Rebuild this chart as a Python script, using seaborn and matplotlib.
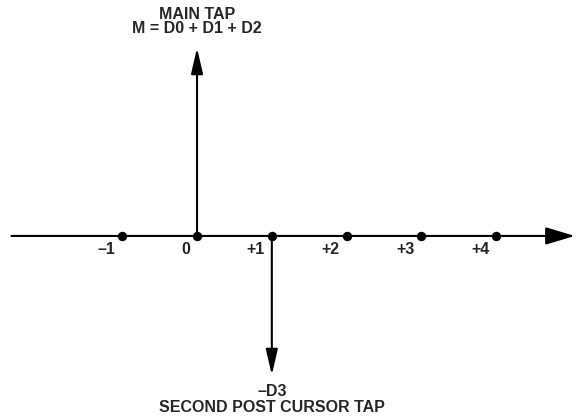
"""Tap diagram: main tap and second post cursor tap on the tap-index axis."""

import matplotlib

matplotlib.use("Agg")

import matplotlib.pyplot as plt
import pandas as pd
import seaborn as sns

# tap indices shown as dots on the axis, and their labels
tap_index = [-1, 0, 1, 2, 3, 4]
tap_labels = ["\u20131", "0", "+1", "+2", "+3", "+4"]

# arrows: tap index, relative height, caption lines
arrow_tap = [0, 1]
arrow_height = [1.0, -0.74]
arrow_text = [
    ["MAIN TAP", "M = D0 + D1 + D2"],
    ["\u2013D3", "SECOND POST CURSOR TAP"],
]

sns.set_theme(style="white")
plt.rcParams["font.family"] = ["Liberation Sans", "DejaVu Sans"]
plt.rcParams["font.weight"] = "bold"

FS = 11.5

fig = plt.figure(figsize=(5.8, 4.2), dpi=100)
ax = fig.add_axes([0, 0, 1, 1])
ax.set_xlim(-2.634, 5.120)
ax.set_ylim(-0.979, 1.255)
ax.axis("off")

# horizontal axis with arrow head
ax.annotate(
    "",
    xy=(5.05, 0),
    xytext=(-2.48, 0),
    arrowprops=dict(arrowstyle="-|>,head_length=1.5,head_width=0.45",
                    color="black", lw=1.5, shrinkA=0, shrinkB=0),
)

# vertical tap arrows
for x, h in zip(arrow_tap, arrow_height):
    ax.annotate(
        "",
        xy=(x, h),
        xytext=(x, 0),
        arrowprops=dict(arrowstyle="-|>,head_length=1.3,head_width=0.3",
                        color="black", lw=1.5, shrinkA=0, shrinkB=0),
    )

dots = pd.DataFrame({"tap": tap_index, "y": [0] * len(tap_index)})
sns.scatterplot(data=dots, x="tap", y="y", s=46, color="black",
                edgecolor="black", linewidth=0, zorder=5, ax=ax, legend=False)

for x, lab in zip(tap_index, tap_labels):
    ax.annotate(lab, xy=(x, 0), xytext=(-5, -4), textcoords="offset points",
                ha="right", va="top", fontsize=FS, fontweight="bold")

# captions
ax.text(0, 1.176, arrow_text[0][0], ha="center", va="center",
        fontsize=FS, fontweight="bold")
ax.text(0, 1.103, arrow_text[0][1], ha="center", va="center",
        fontsize=FS, fontweight="bold")
ax.text(1, -0.826, arrow_text[1][0], ha="center", va="center",
        fontsize=FS, fontweight="bold")
ax.text(1, -0.910, arrow_text[1][1], ha="center", va="center",
        fontsize=FS, fontweight="bold")

fig.savefig("out.png", dpi=100, facecolor="white")
